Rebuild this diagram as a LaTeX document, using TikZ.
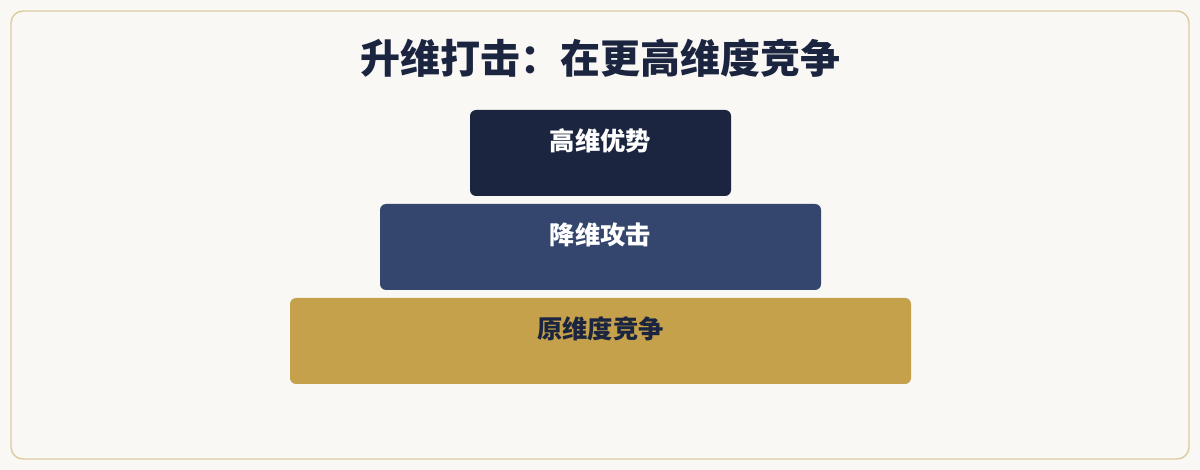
\documentclass[tikz,border=0pt]{standalone}
\usepackage{fontspec}
\setmainfont{Noto Sans CJK SC}
\usepackage{tikz}
\usetikzlibrary{positioning}

\definecolor{pagebg}{HTML}{F9F8F5}
\definecolor{framecol}{HTML}{DDCA9E}
\definecolor{navy}{HTML}{1B2540}
\definecolor{slate}{HTML}{34466D}
\definecolor{gold}{HTML}{C5A14B}

\tikzset{
  layer/.style={rectangle, rounded corners=4.5pt, minimum height=64.5pt, inner sep=0pt},
  layertext/.style={font=\bfseries\fontsize{19pt}{22pt}\selectfont, inner sep=0pt}
}

\begin{document}
\begin{tikzpicture}[x=0.75pt, y=-0.75pt]
      \useasboundingbox[fill=pagebg] (0,0) rectangle (1200,470);
      \draw[framecol, line width=1.1pt, rounded corners=9pt, fill=pagebg] (11,11) rectangle (1189,459);

      \node[font=\bfseries\fontsize{30pt}{34pt}\selectfont, text=navy] (title) at (600,58) {升维打击：在更高维度竞争};

      % pyramid layers
      \node[layer, fill=navy, minimum width=195.75pt] (high) at (600.5,153) {};
      \node[layer, fill=slate, minimum width=330.75pt] (down) at (600.5,247) {};
      \node[layer, fill=gold, minimum width=465.75pt] (base) at (600.5,341) {};

      \node[layertext, text=white] (hightext) at ([yshift=-23.25pt]high.north) {高维优势};
      \node[layertext, text=white] (downtext) at ([yshift=-23.25pt]down.north) {降维攻击};
      \node[layertext, text=navy] (basetext) at ([yshift=-23.25pt]base.north) {原维度竞争};
\end{tikzpicture}
\end{document}
